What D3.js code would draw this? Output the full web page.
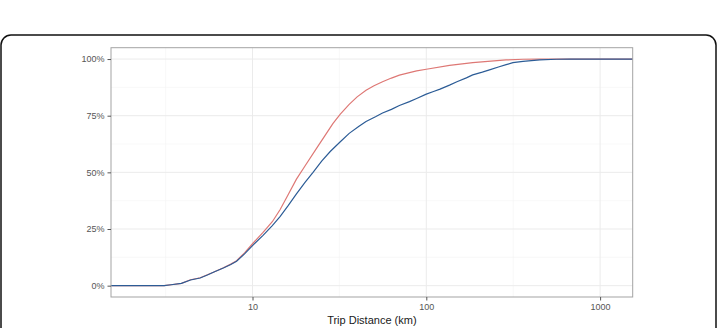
<!DOCTYPE html>
<html>
<head>
<meta charset="utf-8">
<script src="https://cdn.jsdelivr.net/npm/d3@7"></script>
<style>
  body { margin: 0; background: #fff; }
  svg { display: block; font-family: "Liberation Sans", Arial, sans-serif; }
</style>
</head>
<body>
<div id="chart"></div>
<script>
// cumulative share of trips by distance (km)
const blueDist = [1.5, 3.1, 3.4, 3.9, 4.4, 5.0, 5.5, 6.0, 6.8, 7.5, 8.1, 9.0, 10, 11.5, 13, 14.4, 16, 17.9, 20, 22.3, 25, 28, 32, 36, 41, 45, 51, 56, 63, 70, 80, 88, 100, 110, 120, 136, 150, 170, 185, 210, 231, 260, 288, 315, 360, 450, 560, 670, 1600]
const blueCum  = [0, 0, 0.004, 0.01, 0.025, 0.034, 0.047, 0.06, 0.078, 0.093, 0.108, 0.14, 0.177, 0.222, 0.265, 0.305, 0.352, 0.405, 0.455, 0.5, 0.55, 0.592, 0.635, 0.672, 0.703, 0.724, 0.745, 0.762, 0.778, 0.795, 0.812, 0.826, 0.845, 0.857, 0.867, 0.885, 0.9, 0.917, 0.93, 0.942, 0.952, 0.965, 0.975, 0.984, 0.99, 0.996, 0.999, 1, 1]
const redDist  = [1.5, 3.1, 3.4, 3.9, 4.4, 5.0, 5.5, 6.0, 6.8, 7.5, 8.1, 9.0, 10, 11.5, 13, 14.4, 16, 17.9, 20, 23.3, 26, 29, 32, 36, 40, 45, 50, 56, 63, 70, 80, 88, 100, 136, 185, 288, 360, 450, 1600]
const redCum   = [0, 0, 0.004, 0.01, 0.026, 0.035, 0.048, 0.06, 0.079, 0.095, 0.11, 0.145, 0.185, 0.235, 0.282, 0.335, 0.4, 0.47, 0.527, 0.605, 0.66, 0.715, 0.757, 0.8, 0.833, 0.862, 0.882, 0.9, 0.916, 0.929, 0.94, 0.948, 0.955, 0.972, 0.984, 0.996, 0.999, 1, 1]

const xTicks = [10, 100, 1000]
const xMinor = [Math.sqrt(10), Math.sqrt(1000), Math.sqrt(100000)]
const yTicks = [0, 0.25, 0.5, 0.75, 1]
const yMinor = [0.125, 0.375, 0.625, 0.875]
const xLimits = [2.1, 1125]   // data range, ggplot adds 5% each side

const W = 721, H = 328
const margin = {top: 47.7, bottom: 31, left: 111, right: 88.3}

const svg = d3.select("#chart").append("svg")
  .attr("width", W)
  .attr("height", H)

// outer rounded frame
svg.append("rect")
  .attr("x", 1).attr("y", 35)
  .attr("width", 715).attr("height", 320)
  .attr("rx", 10)
  .attr("fill", "none")
  .attr("stroke", "#111")
  .attr("stroke-width", 1.5)

const lx = xLimits.map(Math.log10)
const pad = (lx[1] - lx[0]) * 0.05
const xScale = d3.scaleLog()
  .domain([Math.pow(10, lx[0] - pad), Math.pow(10, lx[1] + pad)])
  .range([margin.left, W - margin.right])
const yScale = d3.scaleLinear()
  .domain([-0.05, 1.05])
  .range([H - margin.bottom, margin.top])

// grid
const grid = svg.append("g")
grid.selectAll(".xminor").data(xMinor).enter().append("line")
  .attr("x1", d => xScale(d)).attr("x2", d => xScale(d))
  .attr("y1", margin.top).attr("y2", H - margin.bottom)
  .attr("stroke", "#f4f4f4").attr("stroke-width", 0.6)
grid.selectAll(".yminor").data(yMinor).enter().append("line")
  .attr("y1", d => yScale(d)).attr("y2", d => yScale(d))
  .attr("x1", margin.left).attr("x2", W - margin.right)
  .attr("stroke", "#f4f4f4").attr("stroke-width", 0.6)
grid.selectAll(".xmajor").data(xTicks).enter().append("line")
  .attr("x1", d => xScale(d)).attr("x2", d => xScale(d))
  .attr("y1", margin.top).attr("y2", H - margin.bottom)
  .attr("stroke", "#ebebeb").attr("stroke-width", 1)
grid.selectAll(".ymajor").data(yTicks).enter().append("line")
  .attr("y1", d => yScale(d)).attr("y2", d => yScale(d))
  .attr("x1", margin.left).attr("x2", W - margin.right)
  .attr("stroke", "#ebebeb").attr("stroke-width", 1)

// lines
svg.append("clipPath").attr("id", "panel")
  .append("rect")
  .attr("x", margin.left).attr("y", margin.top)
  .attr("width", W - margin.left - margin.right)
  .attr("height", H - margin.top - margin.bottom)

const line = d3.line()
  .x(d => xScale(d[0]))
  .y(d => yScale(d[1]))

const series = [
  {pts: d3.zip(redDist, redCum), color: "#de7875"},
  {pts: d3.zip(blueDist, blueCum), color: "#2c5c96"}
]
svg.append("g").attr("clip-path", "url(#panel)")
  .selectAll("path").data(series).enter().append("path")
  .attr("d", d => line(d.pts))
  .attr("fill", "none")
  .attr("stroke", d => d.color)
  .attr("stroke-width", 1.2)

// panel border
svg.append("rect")
  .attr("x", margin.left).attr("y", margin.top)
  .attr("width", W - margin.left - margin.right)
  .attr("height", H - margin.top - margin.bottom)
  .attr("fill", "none")
  .attr("stroke", "#a3a3a3")
  .attr("stroke-width", 1)

// axes
const xAxis = d3.axisBottom(xScale).tickValues(xTicks).tickFormat(d3.format("d")).tickSize(3.5).tickPadding(3)
const yAxis = d3.axisLeft(yScale).tickValues(yTicks).tickFormat(d3.format(".0%")).tickSize(3.5).tickPadding(3)

const gx = svg.append("g")
  .attr("transform", `translate(0, ${H - margin.bottom})`)
  .call(xAxis)
const gy = svg.append("g")
  .attr("transform", `translate(${margin.left}, 0)`)
  .call(yAxis)

;[gx, gy].forEach(g => {
  g.select(".domain").remove()
  g.selectAll(".tick line").attr("stroke", "#555")
  g.selectAll(".tick text").attr("fill", "#555").style("font-size", "9px")
})

svg.append("text")
  .attr("x", (margin.left + W - margin.right) / 2)
  .attr("y", 323.5)
  .attr("text-anchor", "middle")
  .attr("fill", "#1a1a1a")
  .style("font-size", "11px")
  .text("Trip Distance (km)")
</script>
</body>
</html>
